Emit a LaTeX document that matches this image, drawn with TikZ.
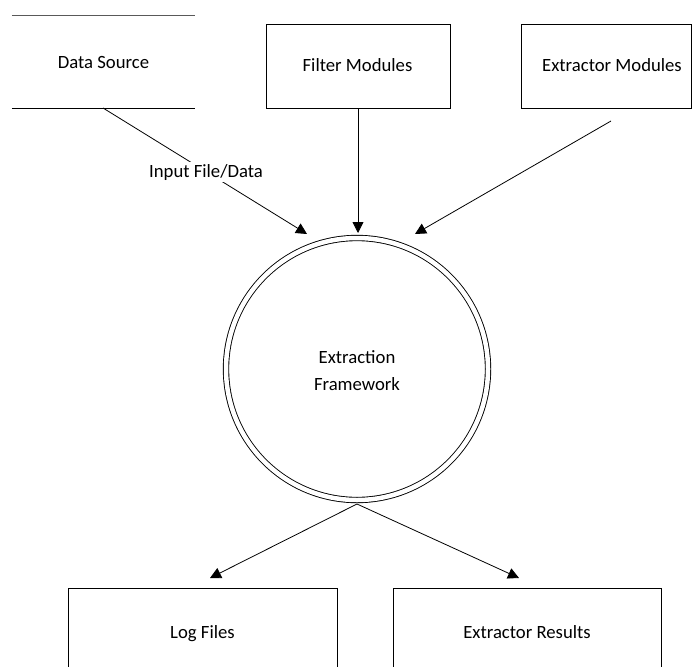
\documentclass[tikz,border=0pt]{standalone}
\usepackage{fontspec}
\setmainfont{Carlito}
\usetikzlibrary{arrows.meta}
\begin{document}
\begin{tikzpicture}[x=1pt,y=-1pt,
  font=\fontsize{18.7}{27}\selectfont,
  box/.style={draw,line width=0.9pt,rectangle,inner sep=0pt},
  lbl/.style={anchor=base,inner sep=1pt},
  arr/.style={line width=0.8pt,-{Triangle[length=11pt,width=11pt]}},
  flow/.style={line width=0.8pt}]
\useasboundingbox (0,0) rectangle (692,666);

% external entities
\node[inner sep=0pt,minimum width=183pt,minimum height=92pt] (ds) at (103.5,62) {};
\draw[flow,black!65] (ds.north west) -- (ds.north east);
\draw[flow] (ds.south west) -- (ds.south east);
\node[lbl] (dstext) at (103.5,69) {Data Source};

\node[box,minimum width=184pt,minimum height=84pt] (fm) at (358,66) {};
\node[lbl] (fmtext) at (357.5,72) {Filter Modules};
\node[box,minimum width=170pt,minimum height=84pt] (em) at (606,66) {};
\node[lbl] (emtext) at (612,72) {Extractor Modules};

% process
\node[circle,draw,double,double distance=4.5pt,line width=0.9pt,minimum size=262pt] (fw) at (357,369) {};
\node[lbl] (fwtext1) at (357,363) {Extraction};
\node[lbl] (fwtext2) at (357,390) {Framework};

% stores
\node[box,minimum width=269pt,minimum height=110pt] (lf) at (202.5,643) {};
\node[lbl] (lftext) at (202.5,638) {Log Files};
\node[box,minimum width=268pt,minimum height=110pt] (er) at (527,643) {};
\node[lbl] (ertext) at (527,638) {Extractor Results};

% connector end points
\coordinate (dsout) at (103,108);
\coordinate (fwin1) at (307,234);
\coordinate (fmout) at (358,108);
\coordinate (fwin2) at (358,233);
\coordinate (emout) at (611,121);
\coordinate (fwin3) at (415,234);
\coordinate (fwout) at (357,504);
\coordinate (lfin) at (210,578);
\coordinate (erin) at (519,578);

\draw[arr] (dsout) -- (fwin1);
\node[lbl,fill=white,inner sep=2pt] (inlabel) at (206,177) {Input File/Data};
\draw[arr] (fmout) -- (fwin2);
\draw[arr] (emout) -- (fwin3);
\draw[arr] (fwout) -- (lfin);
\draw[arr] (fwout) -- (erin);
\end{tikzpicture}
\end{document}
